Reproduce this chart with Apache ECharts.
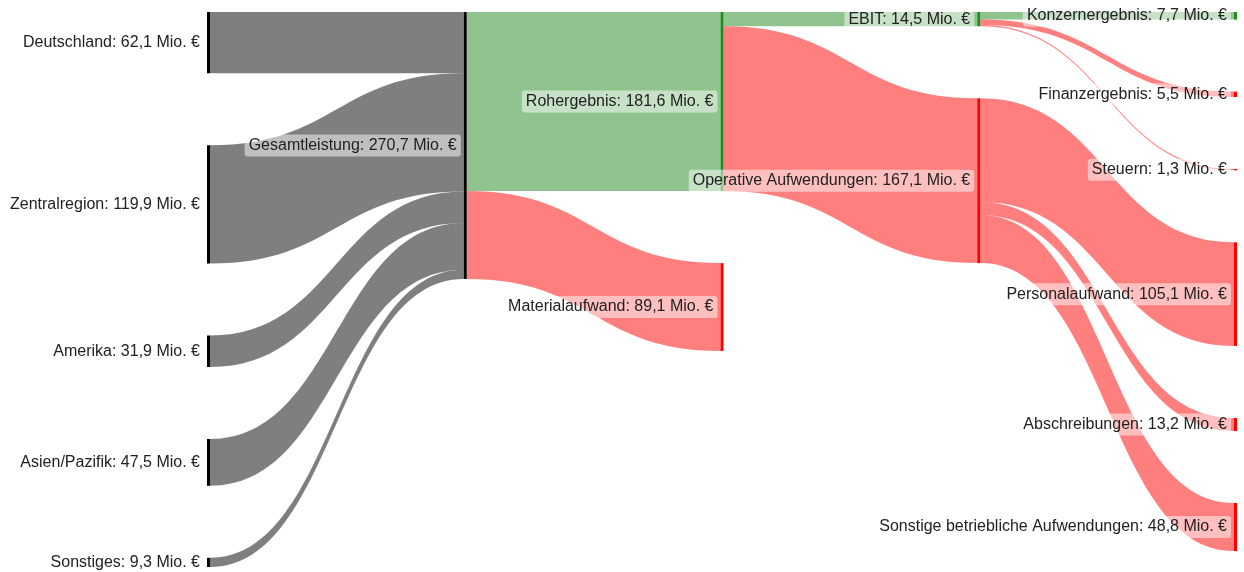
<!DOCTYPE html>
<html>
<head>
<meta charset="utf-8">
<script src="https://cdn.jsdelivr.net/npm/echarts@6/dist/echarts.min.js"></script>
<style>
  html, body { margin: 0; padding: 0; background: #fff; }
  #chart { width: 1244px; height: 572px; }
</style>
</head>
<body>
<div id="chart"></div>
<script>
// Knoten (Name) und Gruppe fuer die Farbe
var nodeNames = [
	'Deutschland', 'Zentralregion', 'Amerika', 'Asien/Pazifik', 'Sonstiges',
	'Gesamtleistung',
	'Rohergebnis', 'Materialaufwand',
	'EBIT', 'Operative Aufwendungen',
	'Konzernergebnis', 'Finanzergebnis', 'Steuern',
	'Personalaufwand', 'Abschreibungen', 'Sonstige betriebliche Aufwendungen'
];
var nodeKinds = [
	'neutral', 'neutral', 'neutral', 'neutral', 'neutral',
	'neutral',
	'gain', 'cost',
	'gain', 'cost',
	'gain', 'cost', 'cost',
	'cost', 'cost', 'cost'
];

// Fluesse in Mio. €
var linkSources = [
	'Deutschland', 'Zentralregion', 'Amerika', 'Asien/Pazifik', 'Sonstiges',
	'Gesamtleistung', 'Gesamtleistung',
	'Rohergebnis', 'Rohergebnis',
	'EBIT', 'EBIT', 'EBIT',
	'Operative Aufwendungen', 'Operative Aufwendungen', 'Operative Aufwendungen'
];
var linkTargets = [
	'Gesamtleistung', 'Gesamtleistung', 'Gesamtleistung', 'Gesamtleistung', 'Gesamtleistung',
	'Rohergebnis', 'Materialaufwand',
	'EBIT', 'Operative Aufwendungen',
	'Konzernergebnis', 'Finanzergebnis', 'Steuern',
	'Personalaufwand', 'Abschreibungen', 'Sonstige betriebliche Aufwendungen'
];
var linkValues = [
	62.1, 119.9, 31.9, 47.5, 9.3,
	181.6, 89.1,
	14.5, 167.1,
	7.7, 5.5, 1.3,
	105.1, 13.2, 48.8
];

var kindColors = { neutral: '#000000', gain: '#1f8a1f', cost: '#ff0000' };

function fmt(v) {
	return v.toFixed(1).replace('.', ',');
}

var nodes = [];
for (var i = 0; i < nodeNames.length; i++) {
	nodes.push({
		name: nodeNames[i],
		itemStyle: { color: kindColors[nodeKinds[i]] }
	});
}
var links = [];
for (var j = 0; j < linkValues.length; j++) {
	links.push({ source: linkSources[j], target: linkTargets[j], value: linkValues[j] });
}

var chart = echarts.init(document.getElementById('chart'));
chart.setOption({
	animation: false,
	series: [{
		type: 'sankey',
		left: 207,
		right: 7,
		top: 12,
		bottom: 5,
		nodeWidth: 3,
		nodeGap: 72,
		nodeAlign: 'left',
		// Reihenfolge der Daten beibehalten
		layoutIterations: 0,
		draggable: false,
		emphasis: { disabled: true },
		data: nodes,
		links: links,
		itemStyle: { borderWidth: 0 },
		lineStyle: { color: 'target', opacity: 0.5, curveness: 0.5 },
		label: {
			position: 'left',
			distance: 3,
			fontFamily: '"Liberation Sans", Arial, sans-serif',
			fontSize: 16,
			color: '#222',
			backgroundColor: 'rgba(255,255,255,0.5)',
			padding: [3, 4],
			borderRadius: 3,
			formatter: function (p) {
				return p.name + ': ' + fmt(p.value) + ' Mio. €';
			}
		}
	}]
});
</script>
</body>
</html>
